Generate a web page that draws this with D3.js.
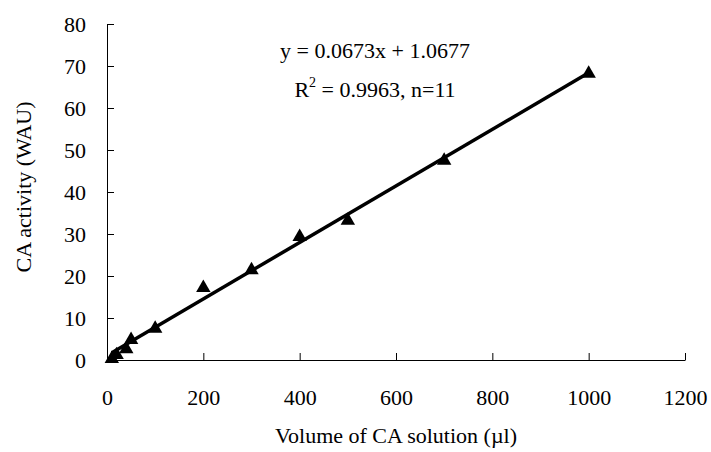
<!DOCTYPE html>
<html>
<head>
<meta charset="utf-8">
<script src="https://cdn.jsdelivr.net/npm/d3@7"></script>
<style>
  body { margin: 0; background: #fff; }
  text { font-family: "Liberation Serif", "Times New Roman", serif; fill: #000; }
</style>
</head>
<body>
<svg id="chart" width="711" height="452"></svg>
<script>
// volumes (ul) and measured activity (WAU)
var volumes = [10, 20, 40, 50, 100, 200, 300, 400, 500, 700, 1000];
var activity = [0.3, 1.2, 2.6, 4.8, 7.5, 17.2, 21.4, 29.3, 33.2, 47.5, 68.2];
var xTicks = [0, 200, 400, 600, 800, 1000, 1200];
var yTicks = [0, 10, 20, 30, 40, 50, 60, 70, 80];
var slope = 0.0673, intercept = 1.0677;
var fitRange = [10, 1000];

var svg = d3.select("#chart");
var x = d3.scaleLinear().domain([0, 1200]).range([107, 685]);
var y = d3.scaleLinear().domain([0, 80]).range([360, 24]);

// axes, ticks point inward
var xAxis = d3.axisBottom(x).tickValues(xTicks).tickFormat(d3.format("d"))
    .tickSizeInner(-7).tickSizeOuter(0).tickPadding(29);
var yAxis = d3.axisLeft(y).tickValues(yTicks).tickFormat(d3.format("d"))
    .tickSizeInner(-7).tickSizeOuter(0).tickPadding(21);

var gx = svg.append("g").attr("transform", "translate(0,360)").call(xAxis);
var gy = svg.append("g").attr("transform", "translate(107,0)").call(yAxis);
[gx, gy].forEach(function(g) {
    g.select(".domain").attr("stroke", "#000").attr("stroke-width", 1);
    g.selectAll(".tick line").attr("stroke", "#000");
    g.selectAll(".tick text").attr("font-size", 22).attr("font-family", "Liberation Serif").attr("fill", "#000");
});

// trendline
svg.append("line")
    .attr("x1", x(fitRange[0])).attr("y1", y(slope * fitRange[0] + intercept))
    .attr("x2", x(fitRange[1])).attr("y2", y(slope * fitRange[1] + intercept))
    .attr("stroke", "#000").attr("stroke-width", 3.5);

// points
var pts = volumes.map(function(v, i) { return [v, activity[i]]; });
svg.append("g").selectAll("path")
    .data(pts)
    .enter().append("path")
    .attr("d", d3.symbol().type(d3.symbolTriangle).size(90))
    .attr("transform", function(d) { return "translate(" + x(d[0]) + "," + y(d[1]) + ")"; })
    .attr("fill", "#000");

// equation
svg.append("text").attr("x", 375).attr("y", 58).attr("text-anchor", "middle")
    .attr("font-size", 22).text("y = 0.0673x + 1.0677");
var r2 = svg.append("text").attr("x", 375).attr("y", 97).attr("text-anchor", "middle").attr("font-size", 22);
r2.append("tspan").text("R");
r2.append("tspan").attr("dy", -10).attr("font-size", 14).text("2");
r2.append("tspan").attr("dy", 10).text(" = 0.9963, n=11");

// axis titles
svg.append("text").attr("x", 396).attr("y", 443).attr("text-anchor", "middle")
    .attr("font-size", 22).text("Volume of CA solution (\u00b5l)");
svg.append("text").attr("transform", "translate(31,187) rotate(-90)").attr("text-anchor", "middle")
    .attr("font-size", 22).text("CA activity (WAU)");
</script>
</body>
</html>
